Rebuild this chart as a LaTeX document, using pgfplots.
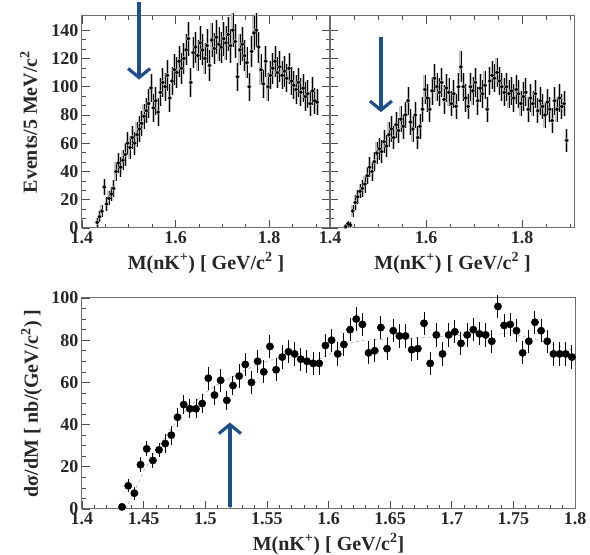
\documentclass[border=0pt]{standalone}
\usepackage{fontspec}
\setmainfont{Liberation Serif}
\usepackage{pgfplots}
\pgfplotsset{compat=1.18}
\usepackage{pgfplotstable}
\usetikzlibrary{arrows.meta}

\definecolor{arrowblue}{HTML}{1F4E8C}
\definecolor{framegray}{HTML}{6E6E6E}

% nK+ invariant mass, first sample (x, counts, stat. error)
\pgfplotstableread{
x y e
1.4325 4 3
1.4375 8 4
1.4425 12 4
1.4475 29 6
1.4525 17 5
1.4575 21 5
1.4625 24 5
1.4675 28 6
1.4725 40 7
1.4775 46 7
1.4825 43 7
1.4875 48 7
1.4925 52 8
1.4975 60 8
1.5025 57 8
1.5075 64 8
1.5125 60 8
1.5175 66 9
1.5225 70 9
1.5275 74 9
1.5325 79 9
1.5375 83 9
1.5425 88 10
1.5475 99 10
1.5525 85 10
1.5575 90 10
1.5625 82 10
1.5675 96 10
1.5725 103 10
1.5775 100 10
1.5825 108 11
1.5875 92 10
1.5925 104 10
1.5975 112 11
1.6025 110 11
1.6075 118 11
1.6125 113 11
1.6175 120 11
1.6225 126 11
1.6275 134 12
1.6325 103 10
1.6375 124 11
1.6425 128 11
1.6475 122 11
1.6525 131 12
1.6575 126 11
1.6625 120 11
1.6675 129 12
1.6725 115 11
1.6775 133 12
1.6825 127 11
1.6875 135 12
1.6925 130 12
1.6975 128 11
1.7025 134 12
1.7075 131 12
1.7125 137 12
1.7175 129 12
1.7225 140 12
1.7275 132 12
1.7325 107 10
1.7375 126 11
1.7425 130 12
1.7475 122 11
1.7525 117 11
1.7575 100 10
1.7625 125 11
1.7675 138 12
1.7725 140 12
1.7775 128 11
1.7825 112 11
1.7875 102 10
1.7925 118 11
1.7975 100 10
1.8025 108 10
1.8075 113 11
1.8125 118 11
1.8175 110 11
1.8225 114 11
1.8275 108 10
1.8325 111 11
1.8375 106 10
1.8425 113 11
1.8475 104 10
1.8525 101 10
1.8575 98 10
1.8625 103 10
1.8675 96 10
1.8725 99 10
1.8775 93 10
1.8825 95 10
1.8875 88 9
1.8925 97 10
1.8975 90 9
1.9025 89 9
}\massA

% nK+ invariant mass, second sample
\pgfplotstableread{
x y e
1.4325 1 2
1.4375 3 2
1.4425 2 2
1.4475 12 4
1.4525 18 5
1.4575 22 5
1.4625 26 5
1.4675 28 6
1.4725 31 6
1.4775 37 6
1.4825 43 7
1.4875 40 7
1.4925 47 7
1.4975 53 8
1.5025 56 8
1.5075 54 8
1.5125 61 8
1.5175 58 8
1.5225 66 9
1.5275 70 9
1.5325 64 8
1.5375 73 9
1.5425 69 9
1.5475 77 9
1.5525 72 9
1.5575 80 9
1.5625 90 10
1.5675 75 9
1.5725 70 9
1.5775 80 9
1.5825 64 8
1.5875 72 9
1.5925 84 9
1.5975 98 10
1.6025 92 10
1.6075 84 9
1.6125 97 10
1.6175 106 10
1.6225 100 10
1.6275 96 10
1.6325 103 10
1.6375 91 10
1.6425 99 10
1.6475 96 10
1.6525 88 9
1.6575 95 10
1.6625 86 9
1.6675 100 10
1.6725 114 11
1.6775 100 10
1.6825 92 10
1.6875 86 9
1.6925 100 10
1.6975 97 10
1.7025 103 10
1.7075 90 10
1.7125 99 10
1.7175 95 10
1.7225 101 10
1.7275 84 9
1.7325 104 10
1.7375 108 10
1.7425 106 10
1.7475 110 10
1.7525 104 10
1.7575 100 10
1.7625 96 10
1.7675 100 10
1.7725 95 10
1.7775 97 10
1.7825 92 10
1.7875 98 10
1.7925 95 10
1.7975 88 9
1.8025 93 10
1.8075 96 10
1.8125 84 9
1.8175 92 10
1.8225 88 9
1.8275 95 10
1.8325 83 9
1.8375 90 10
1.8425 86 9
1.8475 80 9
1.8525 89 9
1.8575 84 9
1.8625 76 9
1.8675 90 10
1.8725 84 9
1.8775 92 10
1.8825 86 9
1.8875 88 9
1.8925 62 8
}\massB

% differential cross section
\pgfplotstableread{
x y e
1.4325 1 1
1.4375 11 3
1.4425 7.5 3
1.4475 21 3.5
1.4525 28.5 3.5
1.4575 23 3.5
1.4625 28 3.5
1.4675 31 4.5
1.4725 35 4.5
1.4775 43.5 4.5
1.4825 49.5 4.5
1.4875 47.5 4.5
1.4925 47.5 4.5
1.4975 50 4.5
1.5025 62 5.5
1.5075 54 4.5
1.5125 61 5.5
1.5175 51.5 4.5
1.5225 58.5 4.5
1.5275 63 5.5
1.5325 68.5 5.5
1.5375 60 5.5
1.5425 70 5.5
1.5475 65 5.5
1.5525 77 5.5
1.5575 66 5.5
1.5625 72 5.5
1.5675 74.5 5.5
1.5725 73.5 5.5
1.5775 71 5.5
1.5825 70 5.5
1.5875 69 5.5
1.5925 69 5.5
1.5975 77.5 5.5
1.6025 80 5.5
1.6075 73.5 5.5
1.6125 78 5.5
1.6175 85 5.5
1.6225 90 5.5
1.6275 87.5 5.5
1.6325 74 5.5
1.6375 75 5.5
1.6425 86 5.5
1.6475 76 5.5
1.6525 84.5 5.5
1.6575 82 5.5
1.6625 82 5.5
1.6675 75.5 5.5
1.6725 76 5.5
1.6775 88 5.5
1.6825 69 5.5
1.6875 82.5 5.5
1.6925 73.5 5.5
1.6975 82.5 5.5
1.7025 84 5.5
1.7075 78.5 5.5
1.7125 82.5 5.5
1.7175 85 5.5
1.7225 83 5.5
1.7275 82.5 5.5
1.7325 79.5 5.5
1.7375 96 5.5
1.7425 87 5.5
1.7475 87.5 5.5
1.7525 84.5 5.5
1.7575 74 5.5
1.7625 79.5 5.5
1.7675 88.5 5.5
1.7725 84.5 5.5
1.7775 79.5 5.5
1.7825 73.5 5.5
1.7875 73.5 5.5
1.7925 73.5 5.5
1.7975 72 5.5
}\xsec

\pgfplotsset{
  panel/.style={
    scale only axis,
    clip=false,
    axis line style={framegray, line width=1pt},
    tick style={black!70, line width=0.6pt},
    major tick length=8pt, minor tick length=4pt,
    tick align=inside,
    /pgf/number format/assume math mode=true,
    ticklabel style={font=\fontsize{18}{18}\selectfont\bfseries, text=black!85},
    label style={font=\fontsize{20}{22}\selectfont\bfseries, text=black!85},
  },
  mass panel/.style={
    panel,
    width=248pt, height=212pt,
    xmin=1.4, xmax=1.93, ymin=0, ymax=150,
    xtick={1.4,1.6,1.8}, minor xtick={1.45,1.5,1.55,1.65,1.7,1.75,1.85,1.9},
    ytick={0,20,...,140}, minor y tick num=2,
    xlabel={M(nK\textsuperscript{+}) [ GeV/c\textsuperscript{2} ]},
    xlabel style={at={(axis description cs:0.5,-0.165)}, anchor=center},
  },
  band/.style={only marks, mark=none, gray!50,
    error bars/.cd, y dir=both, y explicit,
    error bar style={line width=3pt, gray!50}, error mark=none},
  points/.style={only marks, mark=*, mark size=1.6pt, black,
    error bars/.cd, y dir=both, y explicit,
    error bar style={line width=0.6pt, black}, error mark=none},
  marker arrow/.style={arrowblue, line width=3.2pt,
    -{Straight Barb[length=9pt, width=22pt, line width=3.2pt]}},
}

\begin{document}
\begin{tikzpicture}
\path[use as bounding box] (0pt,0pt) rectangle (590pt,555pt);

% upper left: first sample
\begin{axis}[mass panel, at={(82pt,327pt)}, anchor=south west,
  ytick pos=both, yticklabel pos=left,
  ylabel={Events/5 MeV/c\textsuperscript{2}},
  ylabel style={at={(axis description cs:-0.215,0.5)}, anchor=center}]
  \addplot[band] table[x=x, y=y, y error=e] {\massA};
  \addplot[points] table[x=x, y=y, y error=e] {\massA};
  \addplot[marker arrow] coordinates {(1.522,160) (1.522,105)};
\end{axis}

% upper right: second sample
\begin{axis}[mass panel, at={(330pt,327pt)}, anchor=south west,
  width=245pt, xmax=1.91,
  ytick pos=left, yticklabels={}]
  \addplot[band] table[x=x, y=y, y error=e] {\massB};
  \addplot[points] table[x=x, y=y, y error=e] {\massB};
  \addplot[marker arrow] coordinates {(1.506,135) (1.506,82)};
\end{axis}

% lower: differential cross section
\begin{axis}[panel, at={(82pt,46pt)}, anchor=south west,
  width=493pt, height=211pt,
  xmin=1.4, xmax=1.8, ymin=0, ymax=100,
  xtick={1.4,1.45,...,1.81}, minor x tick num=4,
  ytick={0,20,...,100}, minor y tick num=3,
  ytick pos=left, xtick pos=bottom,
  xticklabel={\pgfmathprintnumber[precision=2]{\tick}},
  xlabel={M(nK\textsuperscript{+}) [ GeV/c\textsuperscript{2}]},
  xlabel style={at={(axis description cs:0.5,-0.165)}, anchor=center},
  ylabel={dσ/dM [ nb/(GeV/c\textsuperscript{2}) ]},
  ylabel style={at={(axis description cs:-0.102,0.5)}, anchor=center}]
  \addplot[gray!70, dashed, line width=0.6pt] coordinates {
    (1.435,0) (1.44,5) (1.45,18) (1.46,28) (1.47,36) (1.48,44) (1.49,50)
    (1.50,55) (1.51,59) (1.52,62) (1.53,65) (1.54,68) (1.55,70) (1.56,71.5)
    (1.57,72) (1.58,71) (1.59,70.5) (1.60,73) (1.61,77) (1.62,79) (1.63,80)
    (1.65,80.5) (1.67,81) (1.70,82) (1.73,83) (1.75,83) (1.77,80) (1.80,75)};
  \addplot[only marks, mark=*, mark size=3.7pt, black,
    error bars/.cd, y dir=both, y explicit,
    error bar style={line width=1pt, black}, error mark=none]
    table[x=x, y=y, y error=e] {\xsec};
  \addplot[marker arrow] coordinates {(1.52,1) (1.52,41)};
\end{axis}
\end{tikzpicture}
\end{document}
